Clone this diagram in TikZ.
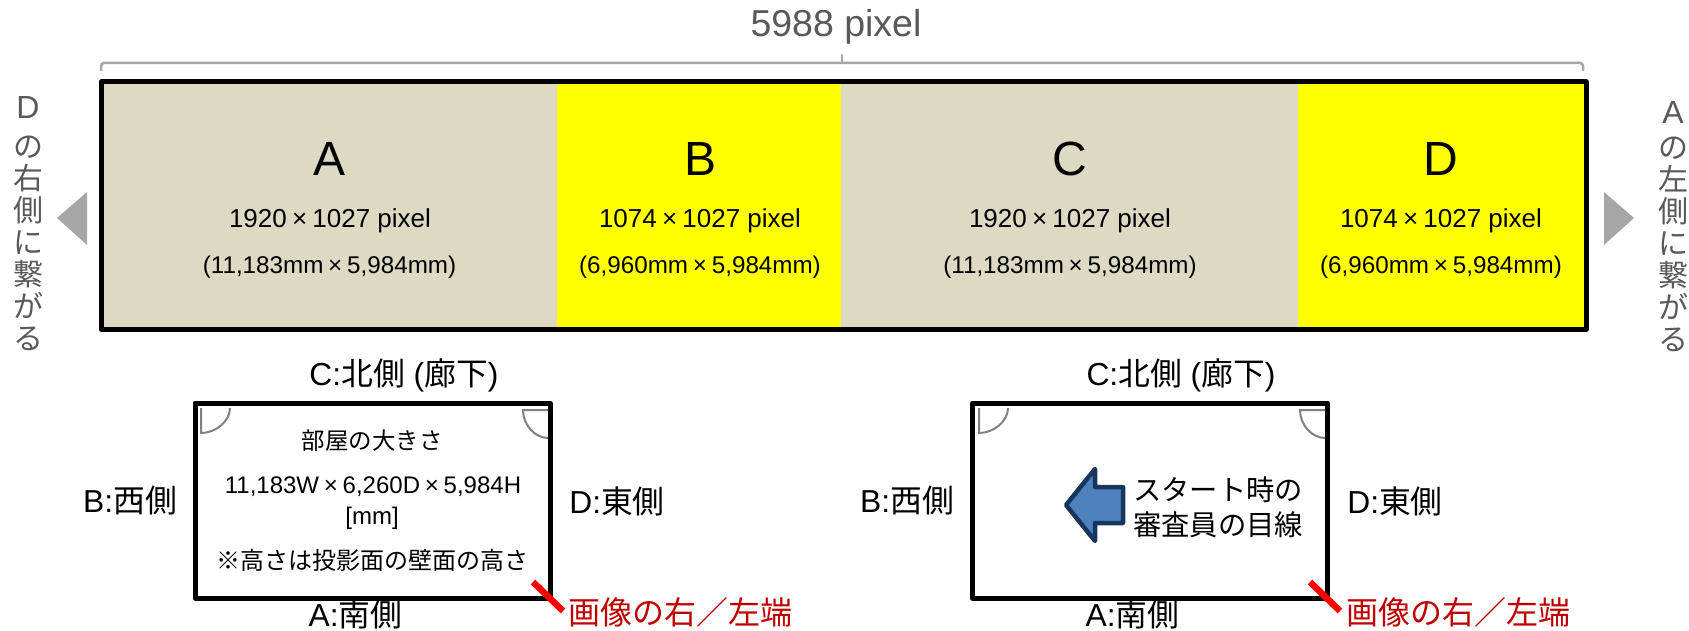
\documentclass[tikz,border=0pt]{standalone}
\usepackage{fontspec}
\usepackage{xcolor}
\setmainfont{Liberation Sans}
\newfontfamily\jp{Noto Sans CJK JP}
\usetikzlibrary{positioning}
\definecolor{tan}{HTML}{DDD9C3}
\definecolor{pureyellow}{HTML}{FFFF00}
\definecolor{purered}{HTML}{FF0000}
\definecolor{midgray}{HTML}{595959}
\definecolor{triangray}{HTML}{A6A6A6}
\definecolor{doorgray}{HTML}{808080}
\definecolor{darkred}{HTML}{C00000}
\definecolor{arrowblue}{HTML}{4F81BD}
\definecolor{arrowline}{HTML}{17365D}
\newcommand{\fs}[1]{\fontsize{#1}{#1}\selectfont}
\newcommand{\cross}{\hspace{0.2em}×\hspace{0.2em}}
\tikzset{panel/.style={rectangle,draw=none,minimum width=#1,minimum height=247,inner sep=0,outer sep=0}}
\tikzset{letter/.style={inner sep=0,font=\fs{48}}}
\tikzset{sizetxt/.style={inner sep=0,font=\fs{26}}}
\tikzset{mmtxt/.style={inner sep=0,font=\fs{24.2}}}
\tikzset{room/.style={rectangle,draw,line width=5,line join=round,minimum width=355,minimum height=195,inner sep=0,outer sep=0}}
\tikzset{side/.style={inner sep=0,font=\fs{31.8}}}
\tikzset{roomtxt/.style={inner sep=0,font=\fs{24}}}
\tikzset{redtxt/.style={inner sep=0,text=darkred,font=\fs{32}\jp}}
\tikzset{vert/.style={inner sep=0,text=midgray,align=center,font=\fontsize{30}{32}\selectfont\jp}}
\tikzset{door/.style={draw=doorgray,line width=2}}
\tikzset{tick/.style={draw=purered,line width=6.5}}
\tikzset{tri/.style={fill=triangray,draw=none}}
\begin{document}
\begin{tikzpicture}[x=1pt,y=-1pt]
        \useasboundingbox (0,0) rectangle (1689,631);

        % the strip of four walls
        \node[panel=456,fill=tan] (wallA) at (329,205.5) {};
        \node[panel=284,fill=pureyellow] (wallB) at (699,205.5) {};
        \node[panel=457,fill=tan] (wallC) at (1069.5,205.5) {};
        \node[panel=288,fill=pureyellow] (wallD) at (1442,205.5) {};
        \draw[line width=5,line join=round] (wallA.north west) rectangle (wallD.south east);

        \node[letter] (letA) at (329.5,159) {A};
        \node[letter] (letB) at (700,159) {B};
        \node[letter] (letC) at (1070,159) {C};
        \node[letter] (letD) at (1441,159) {D};
        \node[sizetxt] (sizeA) at (330,221) {1920\cross1027 pixel};
        \node[sizetxt] (sizeB) at (700,221) {1074\cross1027 pixel};
        \node[sizetxt] (sizeC) at (1070,221) {1920\cross1027 pixel};
        \node[sizetxt] (sizeD) at (1441,221) {1074\cross1027 pixel};
        \node[mmtxt] (mmA) at (329.5,267) {(11,183mm\cross5,984mm)};
        \node[mmtxt] (mmB) at (700,267) {(6,960mm\cross5,984mm)};
        \node[mmtxt] (mmC) at (1070,267) {(11,183mm\cross5,984mm)};
        \node[mmtxt] (mmD) at (1441,267) {(6,960mm\cross5,984mm)};

        % width bracket
        \node[inner sep=0,text=midgray,font=\fs{37.5}] (total) at (836,27) {5988 pixel};
        \draw[triangray,line width=2.5,rounded corners=3] (101,71) -- (101,63) -- (1583,63) -- (1583,71);
        \draw[triangray,line width=2.5,line cap=round] (842,63) -- (842,55);

        % left and right hints
        \node[vert] (hintL) at (28,224) {{\normalfont\fs{32}D}\\[7pt]の\\右\\側\\に\\繋\\が\\る};
        \node[vert] (hintR) at (1673,226.5) {{\normalfont\fs{32}A}\\[3pt]の\\左\\側\\に\\繋\\が\\る};
        \fill[tri] (57,218) -- (87,192) -- (87,245) -- cycle;
        \fill[tri] (1634,218) -- (1604,192) -- (1604,245) -- cycle;

        % first room
        \node[room] (room1) at (372.5,500.5) {};
        \node[side] (north1) at (404,375) {C:{\jp 北側} ({\jp 廊下})};
        \node[side] (west1) at (130,501) {B:{\jp 西側}};
        \node[side] (east1) at (617,501) {D:{\jp 東側}};
        \node[side] (south1) at (355.5,614) {A:{\jp 南側}};
        \node[roomtxt,font=\fs{23.5}\jp] (title1) at (372,441) {部屋の大きさ};
        \node[roomtxt] (dims1) at (373,487) {11,183W\cross6,260D\cross5,984H};
        \node[roomtxt] (unit1) at (372,518) {[mm]};
        \node[roomtxt,font=\fs{24}\jp] (note1) at (372,560) {※高さは投影面の壁面の高さ};
        \draw[door] (201,408) -- (201,433) .. controls (216,433) and (230,421) .. (230,408);
        \draw[door] (548,410) -- (523,410) .. controls (523,425) and (535,438) .. (548,438);
        \coordinate (cut1a) at (533,582);
        \coordinate (cut1b) at (563,611);
        \draw[tick] (cut1a) -- (cut1b);
        \node[redtxt] (edge1) at (680,612) {画像の右／左端};

        % second room
        \node[room] (room2) at (1150,500.5) {};
        \node[side] (north2) at (1181,375) {C:{\jp 北側} ({\jp 廊下})};
        \node[side] (west2) at (907,501) {B:{\jp 西側}};
        \node[side] (east2) at (1395,501) {D:{\jp 東側}};
        \node[side] (south2) at (1132.5,614) {A:{\jp 南側}};
        \draw[door] (979,408) -- (979,433) .. controls (994,433) and (1008,421) .. (1008,408);
        \draw[door] (1325,410) -- (1300,410) .. controls (1300,425) and (1312,438) .. (1325,438);
        \draw[fill=arrowblue,draw=arrowline,line width=4.5,line join=round]
            (1066,505) -- (1095,469) -- (1095,487) -- (1123,487) -- (1123,523) -- (1095,523) -- (1095,541) -- cycle;
        \node[inner sep=0,align=center,font=\fontsize{28.3}{35}\selectfont\jp] (gaze) at (1218,507) {スタート時の\\審査員の目線};
        \coordinate (cut2a) at (1310,582);
        \coordinate (cut2b) at (1340,611);
        \draw[tick] (cut2a) -- (cut2b);
        \node[redtxt] (edge2) at (1458,612) {画像の右／左端};
    \end{tikzpicture}
\end{document}
